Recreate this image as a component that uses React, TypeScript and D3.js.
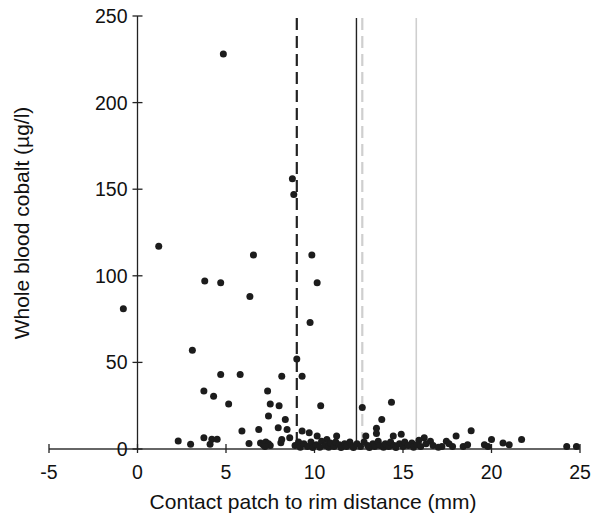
import { useEffect, useRef } from 'react';
import * as d3 from 'd3';

// contact patch to rim distance (mm), whole blood cobalt (ug/l)
const outliers: [number, number][] = [
  [4.85, 228], [8.75, 156], [8.83, 147], [1.2, 117], [-0.8, 81], [3.8, 97], [4.7, 96],
  [6.55, 112], [6.35, 88], [9.85, 112], [10.15, 96], [9.75, 73], [3.1, 57], [9.0, 52],
  [4.7, 43], [5.8, 43], [8.15, 42], [9.3, 42], [3.75, 33.5], [4.3, 30.5], [7.35, 33.5],
  [5.15, 26], [7.5, 26], [8.0, 25], [10.35, 25], [7.4, 19], [8.35, 17], [12.7, 24],
  [14.35, 27], [13.8, 17], [13.5, 12], [13.5, 9], [14.9, 8.5], [14.45, 7.5], [12.9, 7.5],
  [11.25, 7.5], [18.0, 7.5], [18.85, 10.5], [16.2, 6.5], [16.55, 4.5], [15.5, 3.5],
  [15.9, 5], [17.45, 4.5], [21.7, 5.5], [20.0, 5.5], [20.65, 3.5], [21.0, 2.5], [19.6, 2.5],
  [19.8, 1.5], [24.25, 1.5], [24.8, 1.5], [17.8, 1.5], [18.4, 1.5], [18.65, 2.5], [17.2, 1.5]
];

const lowLeft: [number, number][] = [
  [7.95, 12.3], [8.45, 11.3], [6.85, 11.3], [5.9, 10.4], [9.3, 10.4], [9.7, 9.4], [10.15, 7.5],
  [3.75, 6.5], [4.2, 5.6], [4.5, 5.6], [2.3, 4.6], [3.0, 2.7], [4.1, 2.7], [6.3, 3.2],
  [8.6, 6.5], [8.1, 3.6], [6.95, 3.5], [7.1, 2.5], [7.25, 4], [7.4, 3], [7.5, 2], [7.2, 1.5],
  [8.15, 5.5], [10.7, 5.5]
];

const cluster: [number, number][] = [
  [8.9, 2], [9.1, 4], [9.2, 1], [9.4, 3], [9.6, 1.5], [9.8, 4], [9.9, 0.8], [10.1, 2.5],
  [10.3, 1], [10.4, 4.5], [10.6, 2], [10.8, 1], [10.9, 3.5], [11.1, 1.5], [11.2, 4],
  [11.4, 2.5], [11.5, 0.8], [11.7, 3], [11.8, 1.5], [12.0, 4], [12.1, 2], [12.2, 0.8],
  [12.4, 3], [12.6, 1.5], [12.8, 4], [13.0, 2], [13.1, 0.8], [13.3, 3], [13.4, 1.5],
  [13.6, 4.5], [13.7, 2], [13.9, 1], [14.0, 3], [14.2, 1.5], [14.3, 4], [14.5, 2],
  [14.6, 0.8], [14.8, 3], [15.0, 1.5], [15.1, 4], [15.3, 2], [15.6, 1], [15.8, 2.5],
  [16.0, 1.5], [16.3, 3], [16.7, 2], [17.0, 1], [17.6, 3]
];

const xTicks = [-5, 0, 5, 10, 15, 20, 25];
const yTicks = [0, 50, 100, 150, 200, 250];

// reference lines: position (mm), style
const refLines = [
  { x: 9.0, color: '#222', width: 2.2, dash: '12,6' },
  { x: 12.37, color: '#222', width: 1.4, dash: null },
  { x: 12.7, color: '#cfcfcf', width: 2.2, dash: '12,6' },
  { x: 15.75, color: '#cfcfcf', width: 1.6, dash: null }
];

const App = () => {
  const svgRef = useRef<SVGSVGElement>(null);

  useEffect(() => {
    document.body.style.margin = '0';
    const svg = d3.select(svgRef.current);
    svg.selectAll('*').remove();

    const font = '"Liberation Sans", Arial, sans-serif';

    const xScale = d3.scaleLinear().domain([-5, 25]).range([49, 580]);
    const yScale = d3.scaleLinear().domain([0, 250]).range([449, 16]);

    // axes
    svg.append('line')
      .attr('x1', xScale(0)).attr('x2', xScale(0))
      .attr('y1', yScale(0)).attr('y2', yScale(250))
      .attr('stroke', '#222').attr('stroke-width', 1.3);
    svg.append('line')
      .attr('x1', xScale(-5)).attr('x2', xScale(25))
      .attr('y1', yScale(0)).attr('y2', yScale(0))
      .attr('stroke', '#333').attr('stroke-width', 1.6);

    svg.selectAll('.ytick')
      .data(yTicks)
      .enter().append('line')
      .attr('class', 'ytick')
      .attr('x1', xScale(0) - 5).attr('x2', xScale(0) + 5)
      .attr('y1', d => yScale(d)).attr('y2', d => yScale(d))
      .attr('stroke', '#222').attr('stroke-width', 1.3);

    svg.selectAll('.ylab')
      .data(yTicks)
      .enter().append('text')
      .attr('class', 'ylab')
      .attr('x', xScale(0) - 10)
      .attr('y', d => yScale(d) + 7)
      .attr('text-anchor', 'end')
      .attr('font-family', font)
      .attr('font-size', 19.5)
      .attr('fill', '#111')
      .text(d => d);

    svg.selectAll('.xtick')
      .data(xTicks)
      .enter().append('line')
      .attr('class', 'xtick')
      .attr('x1', d => xScale(d)).attr('x2', d => xScale(d))
      .attr('y1', yScale(0) - 5).attr('y2', yScale(0) + 4)
      .attr('stroke', '#222').attr('stroke-width', 1.3);

    svg.selectAll('.xlab')
      .data(xTicks)
      .enter().append('text')
      .attr('class', 'xlab')
      .attr('x', d => xScale(d))
      .attr('y', 479)
      .attr('text-anchor', 'middle')
      .attr('font-family', font)
      .attr('font-size', 19.5)
      .attr('fill', '#111')
      .text(d => d);

    // reference lines
    svg.selectAll('.ref')
      .data(refLines)
      .enter().append('line')
      .attr('class', 'ref')
      .attr('x1', d => xScale(d.x)).attr('x2', d => xScale(d.x))
      .attr('y1', 18).attr('y2', yScale(0))
      .attr('stroke', d => d.color)
      .attr('stroke-width', d => d.width)
      .attr('stroke-dasharray', d => d.dash);

    // points
    svg.selectAll('.point')
      .data([...outliers, ...lowLeft, ...cluster])
      .enter().append('circle')
      .attr('class', 'point')
      .attr('cx', d => xScale(d[0]))
      .attr('cy', d => yScale(d[1]))
      .attr('r', 3.5)
      .attr('fill', '#1c1c1c');

    svg.append('text')
      .attr('x', 313)
      .attr('y', 509)
      .attr('text-anchor', 'middle')
      .attr('font-family', font)
      .attr('font-size', 21)
      .attr('fill', '#111')
      .text('Contact patch to rim distance (mm)');

    svg.append('text')
      .attr('transform', 'translate(29, 223) rotate(-90)')
      .attr('text-anchor', 'middle')
      .attr('font-family', font)
      .attr('font-size', 21)
      .attr('fill', '#111')
      .text('Whole blood cobalt (µg/l)');
  }, []);

  return (
    <div>
      <svg ref={svgRef} width={594} height={516} style={{ display: 'block' }} />
    </div>
  );
};

export default App;
